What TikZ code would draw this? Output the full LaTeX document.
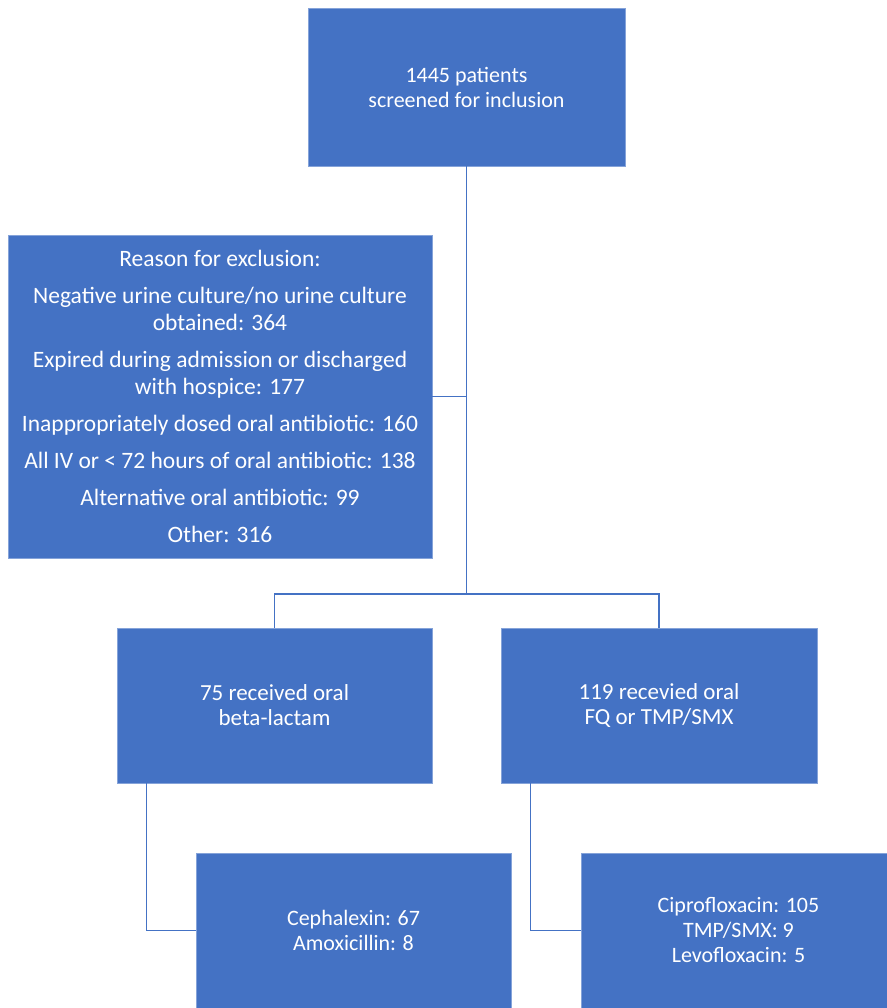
\documentclass[tikz,border=0pt]{standalone}
\usepackage{fontspec}
\setmainfont{Carlito}
\usepackage{xcolor}
\usetikzlibrary{positioning}
\definecolor{boxblue}{HTML}{4472C4}

\begin{document}
\begin{tikzpicture}[x=1pt, y=-1pt,
        flowbox/.style={rectangle, fill=boxblue, draw=boxblue!65!white, line width=0.8pt, text=white, align=center, inner sep=0pt},
        link/.style={draw=boxblue, line width=1.6pt}]
            \useasboundingbox (0,0) rectangle (886,1008);
            \node[flowbox, minimum width=317, minimum height=158, font=\fontsize{22}{25}\selectfont] (screened) at (466.5, 87) {1445 patients\\screened for inclusion};
            \node[flowbox, minimum width=424, minimum height=323, font=\fontsize{23.5}{27}\selectfont] (excl) at (220, 396.5) {Reason for exclusion:\\[10pt]
                Negative urine culture/no urine culture\\obtained: 364\\[10pt]
                Expired during admission or discharged\\with hospice: 177\\[10pt]
                Inappropriately dosed oral antibiotic: 160\\[10pt]
                All IV or < 72 hours of oral antibiotic: 138\\[10pt]
                Alternative oral antibiotic: 99\\[10pt]
                Other: 316};
            \node[flowbox, minimum width=315, minimum height=155, font=\fontsize{23}{25}\selectfont] (blact) at (274.5, 705.5) {75 received oral\\beta-lactam};
            \node[flowbox, minimum width=316, minimum height=155, font=\fontsize{23}{25}\selectfont] (fqtmp) at (659, 705.5) {119 recevied oral\\FQ or TMP/SMX};
            \node[flowbox, minimum width=315, minimum height=155, font=\fontsize{22}{25}\selectfont] (blactdrugs) at (353.5, 930.5) {Cephalexin: 67\\Amoxicillin: 8};
            \node[flowbox, minimum width=315, minimum height=155, font=\fontsize{22}{25}\selectfont] (fqdrugs) at (738.5, 930.5) {Ciprofloxacin: 105\\TMP/SMX: 9\\Levofloxacin: 5};
            \coordinate (split) at (466.5, 594);

            \draw[link] (screened.south) -- (split);
            \draw[link] (excl.east) -- (excl.east -| split);
            \draw[link] (blact.north) |- (split) -| (fqtmp.north);
            \draw[link] ([xshift=30pt]blact.south west) |- (blactdrugs.west);
            \draw[link] ([xshift=30pt]fqtmp.south west) |- (fqdrugs.west);
        \end{tikzpicture}
\end{document}
